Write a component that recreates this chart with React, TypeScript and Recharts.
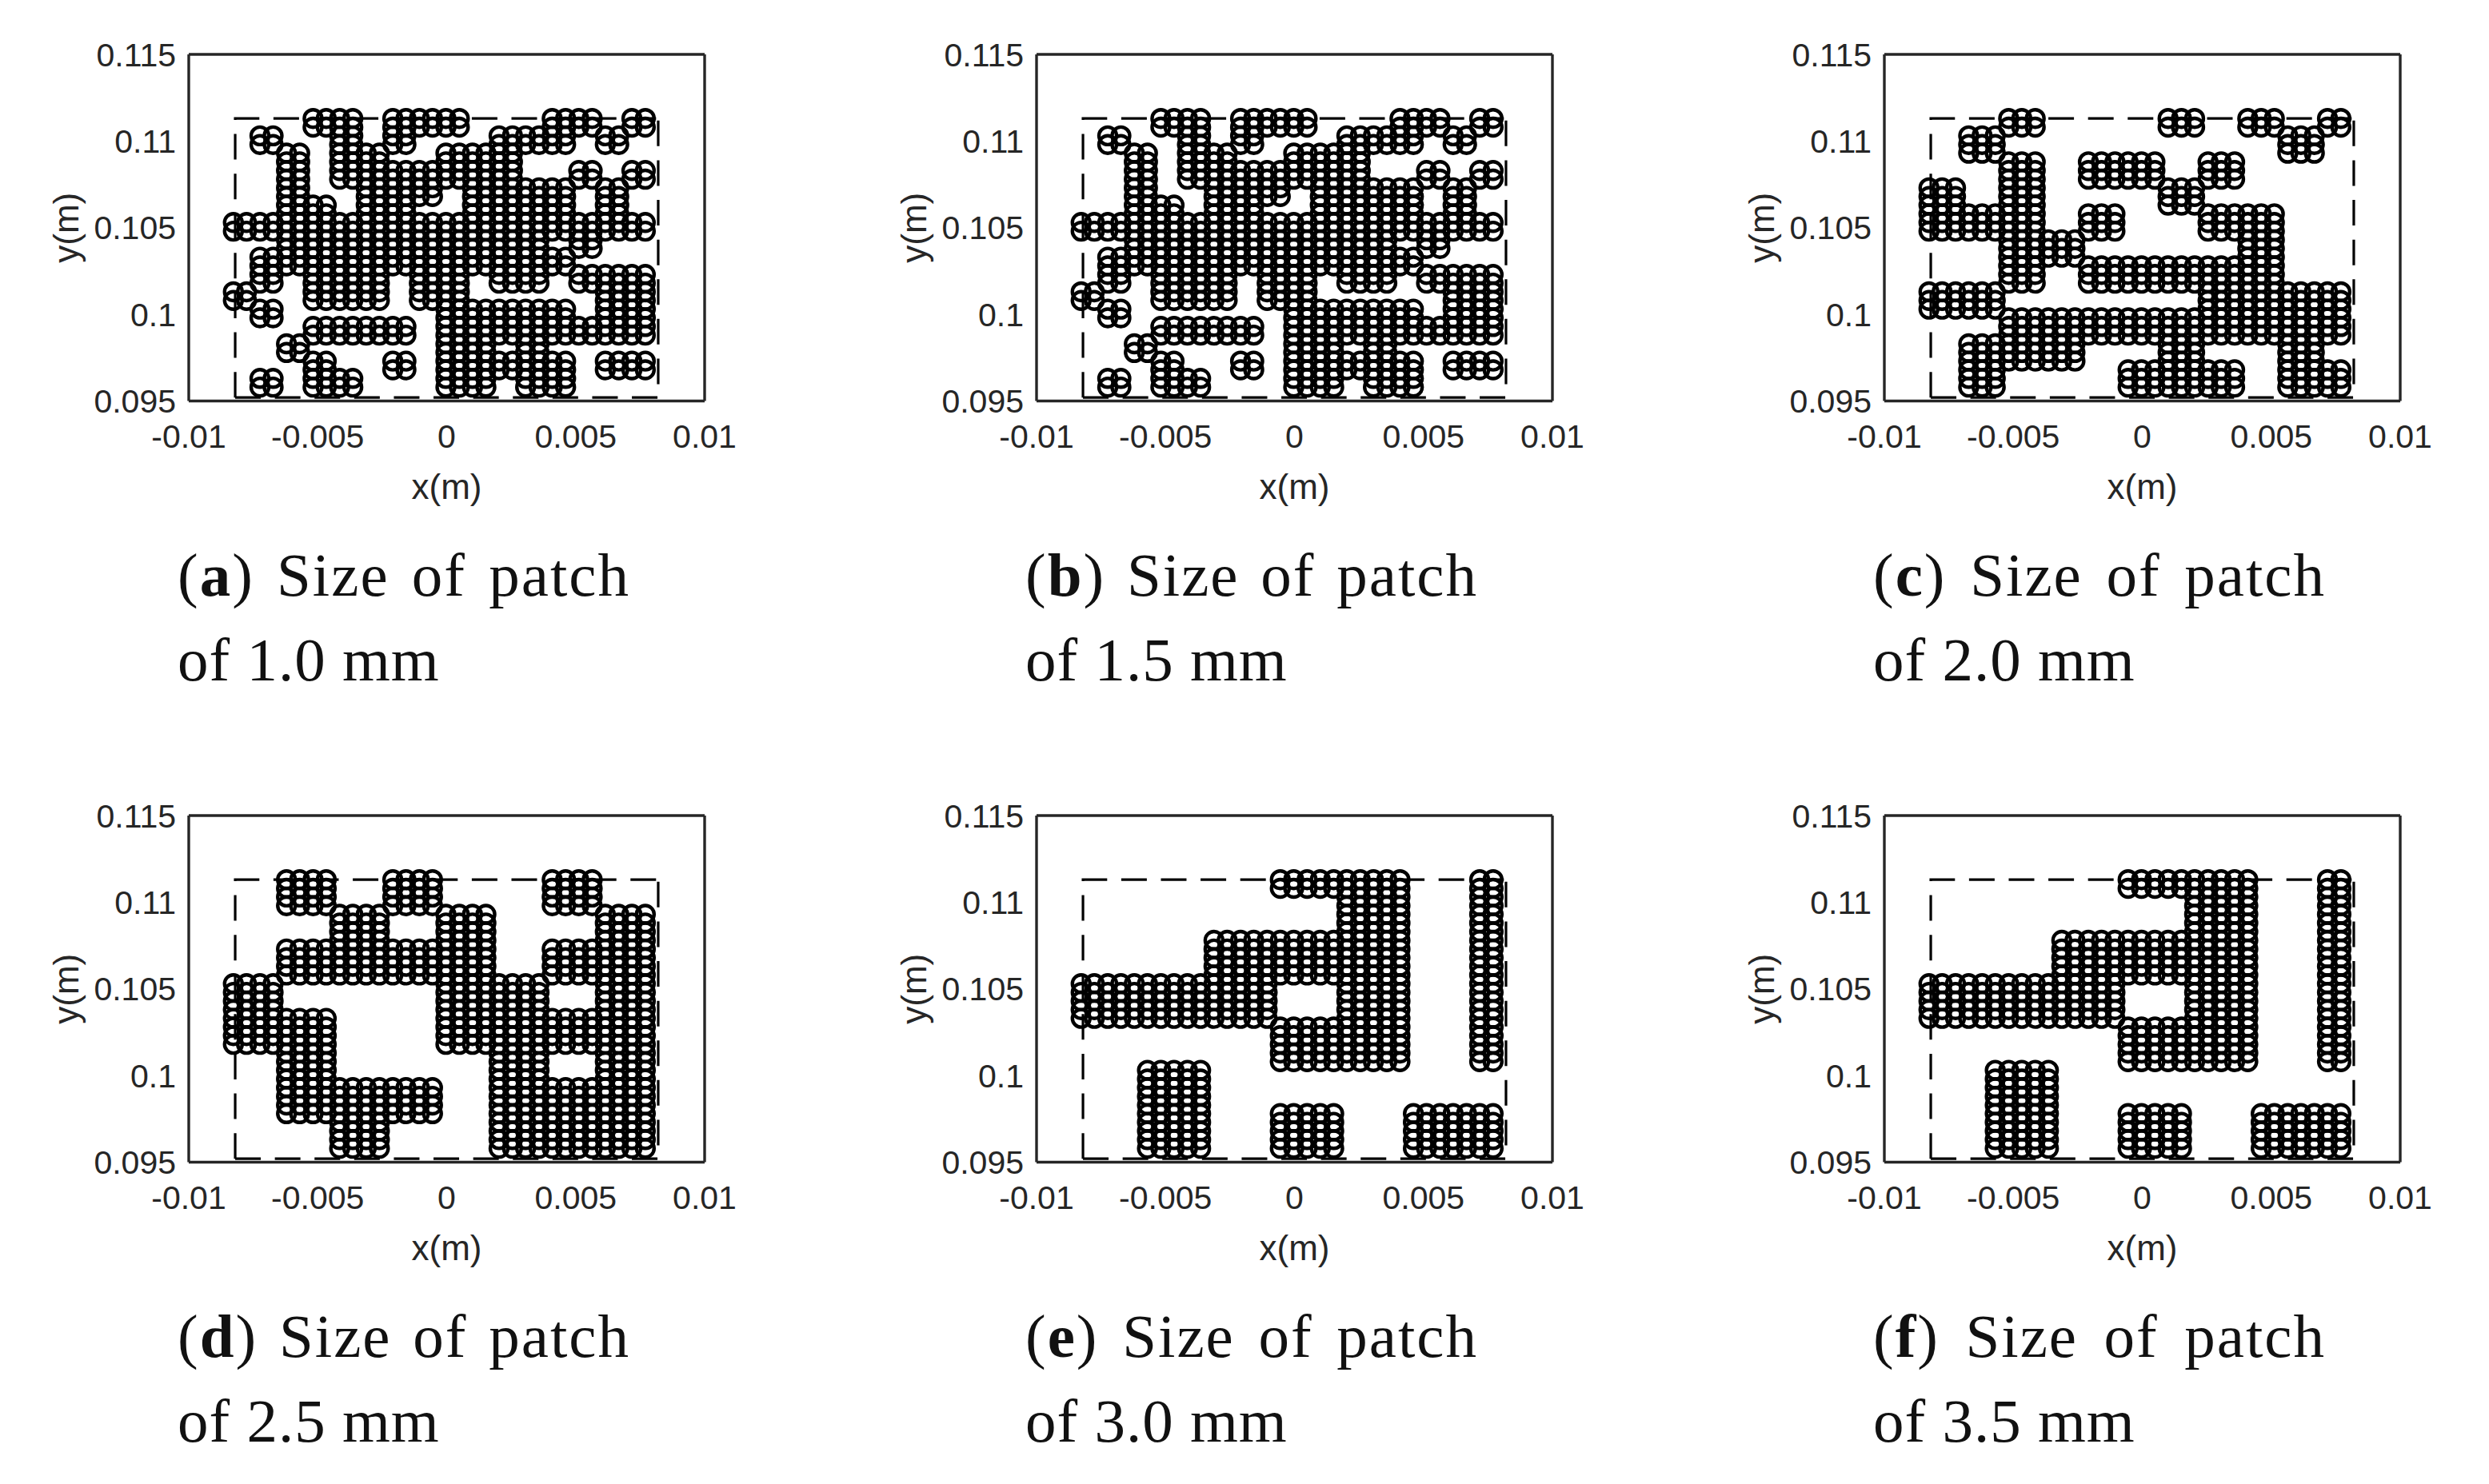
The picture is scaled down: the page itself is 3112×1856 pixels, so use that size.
import React from 'react';
import { ScatterChart, Scatter, XAxis, YAxis } from 'recharts';

const xTicks = [-0.01, -0.005, 0, 0.005, 0.01];
const yTicks = [0.095, 0.1, 0.105, 0.11, 0.115];

// element centres (e) and (d)
const columnX = [
  -0.00827, -0.00776, -0.00724, -0.00673, -0.00621, -0.0057, -0.00518, -0.00467,
  -0.00415, -0.00364, -0.00312, -0.00261, -0.00209, -0.00158, -0.00106, -0.00055,
  -0.00003, 0.00049, 0.001, 0.00152, 0.00203, 0.00255, 0.00306, 0.00358,
  0.00409, 0.00461, 0.00512, 0.00564, 0.00615, 0.00667, 0.00718, 0.0077,
];
const rowY = [
  0.1113, 0.1108, 0.1103, 0.1098, 0.1093, 0.1088, 0.1083, 0.1078,
  0.1073, 0.1068, 0.1063, 0.1058, 0.1053, 0.1048, 0.1043, 0.1038,
  0.1033, 0.1028, 0.1023, 0.1018, 0.1013, 0.1008, 0.1003, 0.0998,
  0.0993, 0.0988, 0.0983, 0.0978, 0.0973, 0.0968, 0.0963, 0.0958,
];

// each entry: first row, last row, then occupied column ranges
type Block = [number, number, [number, number][]];

const patch10: Block[] = [
  [0, 1, [[6, 9], [12, 17], [24, 27], [30, 31]]],
  [2, 3, [[2, 3], [8, 9], [12, 13], [20, 25], [28, 29]]],
  [4, 5, [[4, 5], [8, 11], [16, 21]]],
  [6, 7, [[4, 5], [8, 21], [26, 27], [30, 31]]],
  [8, 9, [[4, 5], [10, 15], [18, 25], [28, 29]]],
  [10, 11, [[4, 7], [10, 13], [18, 25], [28, 29]]],
  [12, 13, [[0, 31]]],
  [14, 15, [[4, 23], [26, 27]]],
  [16, 17, [[2, 25]]],
  [18, 19, [[2, 3], [6, 11], [14, 17], [20, 23], [26, 31]]],
  [20, 21, [[0, 1], [6, 11], [14, 17], [28, 31]]],
  [22, 23, [[2, 3], [16, 25], [28, 31]]],
  [24, 25, [[6, 13], [16, 31]]],
  [26, 27, [[4, 5], [16, 19], [22, 23]]],
  [28, 29, [[6, 7], [12, 13], [16, 25], [28, 31]]],
  [30, 31, [[2, 3], [6, 9], [16, 19], [22, 25]]],
];

const patch20: Block[] = [
  [0, 1, [[6, 8], [18, 20], [24, 26], [30, 31]]],
  [2, 4, [[3, 5], [27, 29]]],
  [5, 7, [[6, 8], [12, 17], [21, 23]]],
  [8, 10, [[0, 2], [6, 8], [18, 20]]],
  [11, 13, [[0, 8], [12, 14], [21, 26]]],
  [14, 16, [[6, 11], [24, 26]]],
  [17, 19, [[6, 8], [12, 26]]],
  [20, 22, [[0, 5], [21, 31]]],
  [23, 25, [[6, 31]]],
  [26, 28, [[3, 11], [18, 20], [27, 29]]],
  [29, 31, [[3, 5], [15, 23], [27, 31]]],
];

const patch25: Block[] = [
  [0, 3, [[4, 7], [12, 15], [24, 27]]],
  [4, 7, [[8, 11], [16, 19], [28, 31]]],
  [8, 11, [[4, 19], [24, 31]]],
  [12, 15, [[0, 3], [16, 23], [28, 31]]],
  [16, 19, [[0, 7], [16, 31]]],
  [20, 23, [[4, 7], [20, 23], [28, 31]]],
  [24, 27, [[4, 15], [20, 31]]],
  [28, 31, [[8, 11], [20, 31]]],
];

const patch30: Block[] = [
  [0, 1, [[15, 24], [30, 31]]],
  [2, 6, [[20, 24], [30, 31]]],
  [7, 11, [[10, 24], [30, 31]]],
  [12, 16, [[0, 14], [20, 24], [30, 31]]],
  [17, 21, [[15, 24], [30, 31]]],
  [22, 26, [[5, 9]]],
  [27, 31, [[5, 9], [15, 19], [25, 31]]],
];

// the dashed outline of the array, drawn as two paths from the lower left corner
const outlineLower = [
  { x: -0.0082, y: 0.0952 },
  { x: 0.0082, y: 0.0952 },
  { x: 0.0082, y: 0.1113 },
];
const outlineUpper = [
  { x: -0.0082, y: 0.0952 },
  { x: -0.0082, y: 0.1113 },
  { x: 0.0082, y: 0.1113 },
];

const toPoints = (blocks: Block[]) => {
  const points: { x: number; y: number }[] = [];
  blocks.forEach(([first, last, ranges]) => {
    for (let r = first; r <= last; r++) {
      ranges.forEach(([a, b]) => {
        for (let c = a; c <= b; c++) points.push({ x: columnX[c], y: rowY[r] });
      });
    }
  });
  return points;
};

const panels = [
  { tag: 'a', size: '1.0', blocks: patch10, left: 235.5, top: 68 },
  { tag: 'b', size: '1.5', blocks: patch10, left: 1295.5, top: 68 },
  { tag: 'c', size: '2.0', blocks: patch20, left: 2355.5, top: 68 },
  { tag: 'd', size: '2.5', blocks: patch25, left: 235.5, top: 1020.25 },
  { tag: 'e', size: '3.0', blocks: patch30, left: 1295.5, top: 1020.25 },
  { tag: 'f', size: '3.5', blocks: patch30, left: 2355.5, top: 1020.25 },
];

const INK = '#262626';
const tickFont = { fontFamily: 'Liberation Sans', fontSize: 41, fill: INK };
const labelFont = { ...tickFont, fontSize: 44 };
const noText = () => '';

const Ring = (props: any) => (
  <circle cx={props.cx} cy={props.cy} r={11} fill="none" stroke="#000" strokeWidth={4.4} />
);
const NoMark = () => <g />;

function Panel({ blocks, left, top }: { blocks: Block[]; left: number; top: number }) {
  const axisLine = { stroke: INK, strokeWidth: 3.4 };
  const tickLine = { stroke: INK, strokeWidth: 3 };
  const dash = { stroke: '#000', strokeWidth: 3.2, strokeDasharray: '32 17.6' };
  return (
    <div style={{ position: 'absolute', left: left - 200, top: top - 30 }}>
      <ScatterChart width={893} height={597.5} margin={{ top: 30, right: 48, bottom: 0, left: 0 }}>
        <XAxis
          xAxisId="x"
          dataKey="x"
          type="number"
          domain={[-0.01, 0.01]}
          ticks={xTicks}
          interval={0}
          height={134}
          axisLine={axisLine}
          tickLine={false}
          tickMargin={23}
          tick={tickFont}
          label={{ value: 'x(m)', position: 'insideBottom', offset: 12, style: labelFont }}
        />
        <XAxis xAxisId="xb" type="number" domain={[-0.01, 0.01]} ticks={xTicks} interval={0} mirror tickSize={8} axisLine={false} tickLine={tickLine} tickFormatter={noText} />
        <XAxis xAxisId="xt" orientation="top" type="number" domain={[-0.01, 0.01]} ticks={xTicks} interval={0} mirror tickSize={8} axisLine={axisLine} tickLine={tickLine} tickFormatter={noText} />
        <YAxis
          yAxisId="y"
          dataKey="y"
          type="number"
          domain={[0.095, 0.115]}
          ticks={yTicks}
          interval={0}
          width={200}
          axisLine={axisLine}
          tickLine={false}
          tickMargin={10}
          tick={tickFont}
          label={{ value: 'y(m)', angle: -90, position: 'insideLeft', offset: 46, style: { ...labelFont, textAnchor: 'middle' } }}
        />
        <YAxis yAxisId="yl" type="number" domain={[0.095, 0.115]} ticks={yTicks} interval={0} mirror tickSize={8} axisLine={false} tickLine={tickLine} tickFormatter={noText} />
        <YAxis yAxisId="yr" orientation="right" type="number" domain={[0.095, 0.115]} ticks={yTicks} interval={0} mirror tickSize={8} axisLine={axisLine} tickLine={tickLine} tickFormatter={noText} />
        <Scatter xAxisId="x" yAxisId="y" data={outlineLower} line={dash} lineType="joint" shape={NoMark} isAnimationActive={false} />
        <Scatter xAxisId="x" yAxisId="y" data={outlineUpper} line={dash} lineType="joint" shape={NoMark} isAnimationActive={false} />
        <Scatter xAxisId="x" yAxisId="y" data={toPoints(blocks)} shape={Ring} isAnimationActive={false} />
      </ScatterChart>
    </div>
  );
}

function Caption({ tag, size, left, top }: { tag: string; size: string; left: number; top: number }) {
  const line = { fontFamily: 'Liberation Serif', fontSize: 77, lineHeight: '106px', color: '#111', whiteSpace: 'nowrap' as const };
  return (
    <div style={{ position: 'absolute', left: left - 13.5, top: top + 598 }}>
      <div style={{ ...line, width: 566, letterSpacing: 2, textAlign: 'justify', textAlignLast: 'justify', whiteSpace: 'normal' }}>
        (<b>{tag}</b>) Size of patch
      </div>
      <div style={{ ...line, letterSpacing: 1 }}>of {size} mm</div>
    </div>
  );
}

export default function App() {
  return (
    <div style={{ position: 'absolute', left: 0, top: 0, width: 3112, height: 1856, background: '#fff', overflow: 'hidden' }}>
      {panels.map((p) => (
        <React.Fragment key={p.tag}>
          <Panel blocks={p.blocks} left={p.left} top={p.top} />
          <Caption tag={p.tag} size={p.size} left={p.left} top={p.top} />
        </React.Fragment>
      ))}
    </div>
  );
}
